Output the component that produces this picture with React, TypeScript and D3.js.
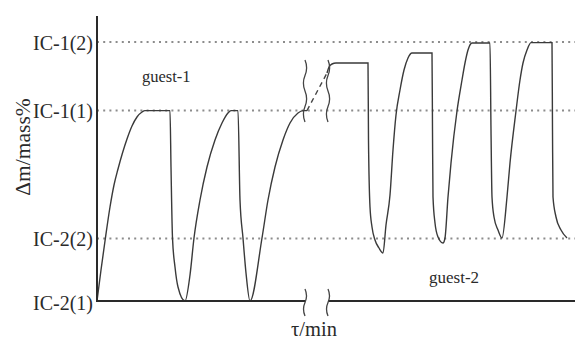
import React from 'react';
import * as d3 from 'd3';

// Reference mass levels (arbitrary mass% units) and their names
const levelLabels = ['IC-2(1)', 'IC-2(2)', 'IC-1(1)', 'IC-1(2)'];
const levelValues = [0, 31.2, 95.2, 129.5];

// Sorption cycles before the time-axis break: [time, Δm]
const runBeforeBreak: [number, number][] = [
  [0, 0], [2, 15.5], [4, 30], [6.5, 47], [8.5, 58], [10.5, 66], [15, 81], [17.5, 87.5],
  [20, 92], [22.5, 94.5], [24, 95.2], [36.5, 95.2], [37, 67], [37.75, 31.5],
  [39, 17], [40.5, 7], [44, 0], [46.5, 13], [48.5, 31.5], [51.5, 50.5], [55, 67],
  [59, 80.5], [62.5, 89], [65.5, 94], [67, 95.2], [70.5, 95.2], [71.5, 50.5],
  [73, 31.5], [74.5, 14], [76.5, 0], [82.5, 31.5], [85.5, 50.5], [89, 67],
  [93, 80.5], [96.5, 89], [100.5, 94], [103, 95.2], [105, 95.2],
];

// Sorption cycles after the break
const runAfterBreak: [number, number][] = [
  [115, 114], [116, 117], [117.5, 118.5], [119.5, 119], [135.5, 119],
  [135.75, 80.5], [136.5, 47], [137.5, 37], [139, 30.5], [141, 26.5], [143, 24],
  [144.5, 38], [146.5, 53], [148, 75.5], [149.5, 93], [151.5, 105.5],
  [153.5, 115.5], [155.5, 121.5], [157.5, 124], [167.5, 124], [167.75, 85.5],
  [168, 52], [169, 39], [170.5, 32], [173, 29], [174, 31.5], [175.5, 52],
  [177, 69], [180, 95], [182.5, 110.5], [184, 119], [185.5, 125.5], [187.5, 129],
  [196.5, 129], [197, 85.5], [197.5, 52], [198.5, 42], [200.5, 35.5], [202.5, 31.5],
  [205, 52], [206.5, 69], [209.5, 95], [211.5, 110.5], [213, 119], [215, 125.5],
  [217, 129.2], [227.5, 129.2], [227.75, 85.5], [228, 52], [229.5, 42],
  [232, 35.5], [235, 31.5],
];

// Time values where the axis is interrupted
const breakTimes = [104, 115.5];

const phaseLabels = ['guest-1', 'guest-2'];

const W = 575;
const H = 342;
const left = 97;
const right = 575;
const top = 16;
const bottom = 301;

const FONT = "'Liberation Serif', 'Times New Roman', serif";

// Vertical wavy stroke used as a break symbol
function wavyPath(x: number, y0: number, y1: number, halfWaves: number, amp: number) {
  const step = (y1 - y0) / halfWaves;
  let d = `M${x},${y0}`;
  for (let i = 0; i < halfWaves; i++) {
    const ya = y0 + step * i;
    const dir = i % 2 === 0 ? 1 : -1;
    d += ` Q${x + dir * amp * 2},${ya + step / 2} ${x},${ya + step}`;
  }
  return d;
}

export default function App() {
  const x = d3.scaleLinear().domain([0, 239]).range([left, right]);
  const y = d3.scaleLinear().domain([0, 142.5]).range([bottom, top]);

  const line = d3
    .line<[number, number]>()
    .x((d) => x(d[0]))
    .y((d) => y(d[1]))
    .curve(d3.curveMonotoneX);

  const bridge: [number, number][] = [
    runBeforeBreak[runBeforeBreak.length - 1],
    runAfterBreak[0],
  ];
  const straight = d3
    .line<[number, number]>()
    .x((d) => x(d[0]))
    .y((d) => y(d[1]));

  const bx0 = x(breakTimes[0]);
  const bx1 = x(breakTimes[1]);

  const ink = '#2a2a2a';

  return (
    <svg
      width={W}
      height={H}
      style={{ position: 'absolute', left: 0, top: 0, background: '#fff' }}
    >
      {/* dotted reference levels */}
      {levelValues.map((v, i) =>
        v > 0 ? (
          <line
            key={`lvl-${i}`}
            x1={left}
            x2={right}
            y1={y(v)}
            y2={y(v)}
            stroke="#8c8c8c"
            strokeWidth={2}
            strokeDasharray="2 4.2"
          />
        ) : null
      )}

      {/* curves */}
      <path d={line(runBeforeBreak) || ''} fill="none" stroke="#3a3a3a" strokeWidth={1.4} />
      <path d={line(runAfterBreak) || ''} fill="none" stroke="#3a3a3a" strokeWidth={1.4} />
      <path
        d={straight(bridge) || ''}
        fill="none"
        stroke="#444"
        strokeWidth={1.4}
        strokeDasharray="5 4"
      />

      {/* break symbols across the curve */}
      <path d={wavyPath(bx0, 60, 122, 4, 1.6)} fill="none" stroke="#444" strokeWidth={1.3} />
      <path d={wavyPath(bx1, 60, 122, 4, 1.6)} fill="none" stroke="#444" strokeWidth={1.3} />

      {/* axes */}
      <line x1={left} x2={left} y1={top} y2={bottom + 1} stroke={ink} strokeWidth={2} />
      <line x1={left - 1} x2={bx0} y1={bottom} y2={bottom} stroke={ink} strokeWidth={2} />
      <line x1={bx1} x2={right} y1={bottom} y2={bottom} stroke={ink} strokeWidth={2} />
      <path d={wavyPath(bx0, bottom - 12, bottom + 15, 2, 1.5)} fill="none" stroke="#444" strokeWidth={1.3} />
      <path d={wavyPath(bx1, bottom - 12, bottom + 15, 2, 1.5)} fill="none" stroke="#444" strokeWidth={1.3} />

      {/* level labels */}
      {levelLabels.map((lab, i) => (
        <text
          key={lab}
          x={left - 4}
          y={y(levelValues[i]) + (i === 0 ? 9 : 7.5)}
          textAnchor="end"
          fontFamily={FONT}
          fontSize={20}
          fill={ink}
        >
          {lab}
        </text>
      ))}

      {/* axis titles */}
      <text
        transform={`translate(30,147) rotate(-90)`}
        textAnchor="middle"
        fontFamily={FONT}
        fontSize={21.5}
        fill={ink}
      >
        Δm/mass%
      </text>
      <text x={314} y={336} textAnchor="middle" fontFamily={FONT} fontSize={20.5} fill={ink}>
        τ/min
      </text>

      {/* phase annotations */}
      <text x={x(22.5)} y={y(109.5)} fontFamily={FONT} fontSize={16.5} fill={ink}>
        {phaseLabels[0]}
      </text>
      <text x={x(166)} y={y(9)} fontFamily={FONT} fontSize={17} fill={ink}>
        {phaseLabels[1]}
      </text>
    </svg>
  );
}
